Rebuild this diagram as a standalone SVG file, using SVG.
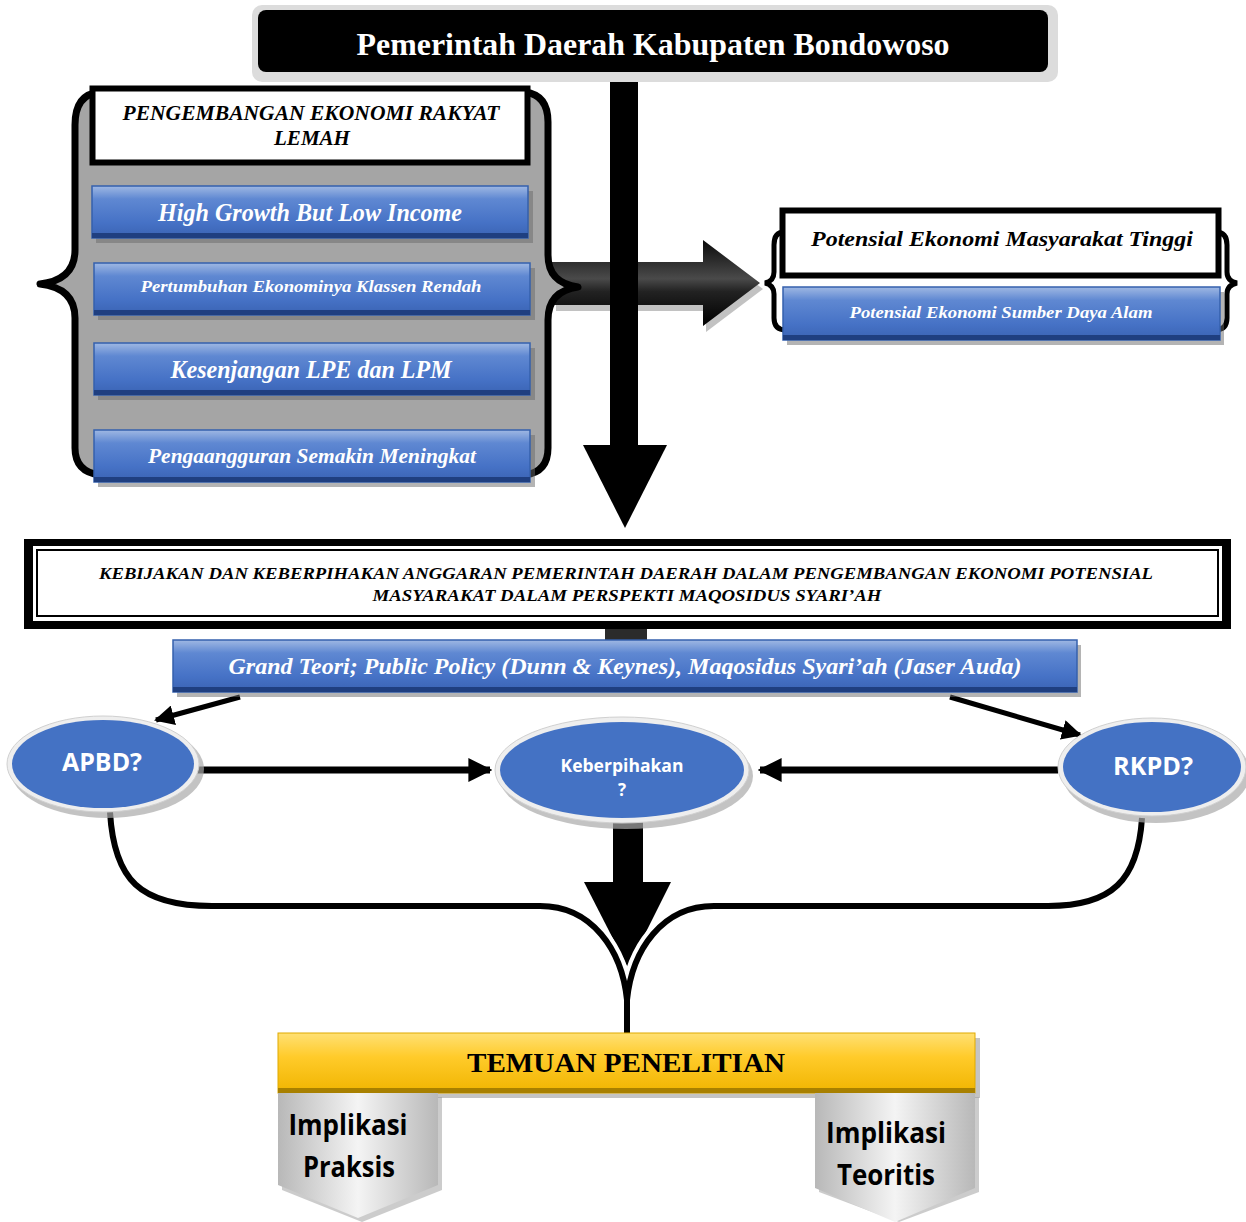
<svg xmlns="http://www.w3.org/2000/svg" width="1246" height="1222" viewBox="0 0 1246 1222">
<defs>
<linearGradient id="blueG" x1="0" y1="0" x2="0" y2="1">
<stop offset="0" stop-color="#9fb8e3"/>
<stop offset="0.25" stop-color="#5f88d2"/>
<stop offset="0.7" stop-color="#4672c6"/>
<stop offset="1" stop-color="#3a63b3"/>
</linearGradient>
<linearGradient id="yellowG" x1="0" y1="0" x2="0" y2="1">
<stop offset="0" stop-color="#ffe074"/>
<stop offset="0.4" stop-color="#ffcb2a"/>
<stop offset="1" stop-color="#f0b400"/>
</linearGradient>
<linearGradient id="grayG" x1="0" y1="0" x2="1" y2="0">
<stop offset="0" stop-color="#b8b8b8"/>
<stop offset="0.5" stop-color="#f4f4f4"/>
<stop offset="1" stop-color="#b8b8b8"/>
</linearGradient>
<linearGradient id="darkArrowG" x1="0" y1="0" x2="0" y2="1">
<stop offset="0" stop-color="#0a0a0a"/>
<stop offset="0.45" stop-color="#4a4a4a"/>
<stop offset="0.6" stop-color="#222"/>
<stop offset="1" stop-color="#000"/>
</linearGradient>
<marker id="ah" viewBox="0 0 10 10" refX="9" refY="5" markerWidth="24" markerHeight="26" markerUnits="userSpaceOnUse" orient="auto">
<path d="M0,0 L10,5 L0,10 Z" fill="#000"/>
</marker>
<marker id="ahS" viewBox="0 0 10 10" refX="9" refY="5" markerWidth="20" markerHeight="20" markerUnits="userSpaceOnUse" orient="auto">
<path d="M0,0 L10,5 L0,10 Z" fill="#000"/>
</marker>
</defs>
<style>
.serif{font-family:"Liberation Serif","Times New Roman",serif;}
.bi{font-family:"Liberation Serif","Times New Roman",serif;font-weight:bold;font-style:italic;}
.sans{font-family:"Open Sans","Noto Sans","Liberation Sans",sans-serif;font-weight:bold;}
.wt{fill:#ffffff;}
.bt{fill:#000000;}
.bar{fill:url(#blueG);stroke:#3560ad;stroke-width:1.5;}
.barEdge{fill:#1f3f80;}
.barShadow{fill:#6a6a6a;opacity:0.5;}
.line{stroke:#000;fill:none;}
.halo{stroke:#fff;fill:none;}
.ell{fill:#4472c4;}
.ellRing{fill:#eeeeee;stroke:#d0d0d0;stroke-width:1;}
.ellShadow{fill:#a9a9a9;opacity:0.7;}
</style>

<g id="connectors">
<path d="M706,246 L763,289 L706,332 L706,311 L556,311 L556,268 L706,268 Z" fill="#9a9a9a" opacity="0.6"/>
<path d="M552,262 L703,262 L703,240 L760,283 L703,326 L703,305 L552,305 Z" fill="url(#darkArrowG)"/>
<rect x="610" y="72" width="28" height="374" fill="#000"/>
<path d="M583,445 L667,445 L625,528 Z" fill="#000"/>
<rect x="605" y="627" width="42" height="14" fill="#2b2b2b"/>
<line x1="240" y1="697" x2="156" y2="720" class="line" stroke-width="5" marker-end="url(#ahS)"/>
<line x1="950" y1="697" x2="1080" y2="735" class="line" stroke-width="5" marker-end="url(#ahS)"/>
<line x1="197" y1="770" x2="490" y2="770" class="line" stroke-width="7" marker-end="url(#ah)"/>
<line x1="1058" y1="770" x2="760" y2="770" class="line" stroke-width="7" marker-end="url(#ah)"/>
<rect x="613" y="818" width="30" height="66" fill="#000"/>
<path d="M584,882 L671,882 L628,968 Z" fill="#000"/>
<path d="M540,906 C592,906 622,950 627,1000" class="halo" stroke-width="14"/>
<path d="M714,906 C662,906 632,950 627,1000" class="halo" stroke-width="14"/>
<path d="M110,812 C114,880 140,906 212,906 L540,906 C592,906 622,950 627,1000 L627,1034" class="line" stroke-width="6"/>
<path d="M1142,818 C1138,880 1112,906 1048,906 L714,906 C662,906 632,950 627,1000 L627,1034" class="line" stroke-width="6"/>
</g>

<g id="title">
<rect x="252" y="5" width="806" height="77" rx="10" fill="#dcdcdc"/>
<rect x="258" y="10" width="790" height="62" rx="8" fill="#000"/>
<text x="653" y="55" text-anchor="middle" class="serif wt" font-weight="bold" font-size="32" textLength="593" lengthAdjust="spacingAndGlyphs">Pemerintah Daerah Kabupaten Bondowoso</text>
</g>

<g id="left-panel">
<path d="M100,92 Q75,94 75,125 L75,250 Q75,280 40,284 Q75,288 75,318 L75,448 Q75,472 100,475 L525,475 Q548,472 548,448 L548,320 Q548,291 578,287 Q548,283 548,255 L548,122 Q548,95 525,92 Z" fill="#a5a5a5" stroke="#000" stroke-width="7" stroke-linejoin="round"/>
</g>

<g id="box-pengembangan">
<rect x="92.5" y="88.5" width="435" height="74" fill="#fff" stroke="#000" stroke-width="6"/>
<text x="311" y="120" text-anchor="middle" class="bi bt" font-size="20" textLength="377" lengthAdjust="spacingAndGlyphs">PENGEMBANGAN EKONOMI RAKYAT</text>
<text x="312" y="145" text-anchor="middle" class="bi bt" font-size="20" textLength="76" lengthAdjust="spacingAndGlyphs">LEMAH</text>
</g>

<g id="bar-high-growth">
<rect x="96" y="191" width="437" height="52" class="barShadow"/>
<rect x="92" y="186" width="436" height="52" class="bar"/>
<rect x="92" y="233" width="436" height="5" class="barEdge"/>
<text x="310" y="221" text-anchor="middle" class="bi wt" font-size="26" textLength="304" lengthAdjust="spacingAndGlyphs">High Growth But Low Income</text>
</g>

<g id="bar-pertumbuhan">
<rect x="98" y="268" width="437" height="52" class="barShadow"/>
<rect x="94" y="263" width="436" height="52" class="bar"/>
<rect x="94" y="310" width="436" height="5" class="barEdge"/>
<text x="311" y="292" text-anchor="middle" class="bi wt" font-size="17" textLength="341" lengthAdjust="spacingAndGlyphs">Pertumbuhan Ekonominya Klassen Rendah</text>
</g>

<g id="bar-kesenjangan">
<rect x="98" y="348" width="437" height="52" class="barShadow"/>
<rect x="94" y="343" width="436" height="52" class="bar"/>
<rect x="94" y="390" width="436" height="5" class="barEdge"/>
<text x="311" y="378" text-anchor="middle" class="bi wt" font-size="26" textLength="281" lengthAdjust="spacingAndGlyphs">Kesenjangan LPE dan LPM</text>
</g>

<g id="bar-pengangguran">
<rect x="98" y="435" width="437" height="52" class="barShadow"/>
<rect x="94" y="430" width="436" height="52" class="bar"/>
<rect x="94" y="477" width="436" height="5" class="barEdge"/>
<text x="312" y="463" text-anchor="middle" class="bi wt" font-size="20" textLength="328" lengthAdjust="spacingAndGlyphs">Pengaangguran Semakin Meningkat</text>
</g>

<g id="right-group">
<path d="M784,232 Q774,232 774,245 L774,272 Q774,281 765,283 Q774,285 774,294 L774,318 Q774,330 786,330" class="line" stroke-width="5"/>
<path d="M1216,232 Q1227,232 1227,245 L1227,272 Q1227,281 1237,283 Q1227,285 1227,294 L1227,318 Q1227,330 1215,330" class="line" stroke-width="5"/>
<rect x="782.5" y="210.5" width="436" height="65" fill="#fff" stroke="#000" stroke-width="6"/>
<text x="1002" y="246" text-anchor="middle" class="bi bt" font-size="22" textLength="382" lengthAdjust="spacingAndGlyphs">Potensial Ekonomi Masyarakat Tinggi</text>
<rect x="787" y="292" width="437" height="53" class="barShadow"/>
<rect x="783" y="287" width="437" height="53" class="bar"/>
<rect x="783" y="335" width="437" height="5" class="barEdge"/>
<text x="1001" y="318" text-anchor="middle" class="bi wt" font-size="17" textLength="303" lengthAdjust="spacingAndGlyphs">Potensial Ekonomi Sumber Daya Alam</text>
</g>

<g id="box-kebijakan">
<rect x="24" y="539" width="1207" height="90" fill="#000"/>
<rect x="33" y="546" width="1189" height="75" fill="#fff"/>
<rect x="37" y="550" width="1181" height="66" fill="#fff" stroke="#000" stroke-width="2"/>
<text x="626" y="579" text-anchor="middle" class="bi bt" font-size="16" textLength="1054" lengthAdjust="spacingAndGlyphs">KEBIJAKAN DAN KEBERPIHAKAN ANGGARAN PEMERINTAH DAERAH DALAM PENGEMBANGAN EKONOMI POTENSIAL</text>
<text x="627" y="601" text-anchor="middle" class="bi bt" font-size="16" textLength="509" lengthAdjust="spacingAndGlyphs">MASYARAKAT DALAM PERSPEKTI MAQOSIDUS SYARI’AH</text>
</g>

<g id="bar-grand-teori">
<rect x="177" y="645" width="904" height="52" class="barShadow"/>
<rect x="173" y="640" width="904" height="52" class="bar"/>
<rect x="173" y="687" width="904" height="5" class="barEdge"/>
<text x="625" y="674" text-anchor="middle" class="bi wt" font-size="24" textLength="793" lengthAdjust="spacingAndGlyphs">Grand Teori; Public Policy (Dunn &amp; Keynes), Maqosidus Syari’ah (Jaser Auda)</text>
</g>

<g id="ellipse-apbd">
<ellipse cx="107" cy="769" rx="97" ry="49" class="ellShadow"/>
<ellipse cx="103" cy="764" rx="96" ry="48" class="ellRing"/>
<ellipse cx="103" cy="764" rx="91" ry="44" class="ell"/>
<text x="102" y="771" text-anchor="middle" class="sans wt" font-size="25" textLength="80" lengthAdjust="spacingAndGlyphs">APBD?</text>
</g>

<g id="ellipse-keberpihakan">
<ellipse cx="626" cy="776" rx="127" ry="53" class="ellShadow"/>
<ellipse cx="622" cy="770" rx="127" ry="53" class="ellRing"/>
<ellipse cx="622" cy="770" rx="122" ry="48" class="ell"/>
<text x="622" y="772" text-anchor="middle" class="sans wt" font-size="17" textLength="123" lengthAdjust="spacingAndGlyphs">Keberpihakan</text>
<text x="622" y="796" text-anchor="middle" class="sans wt" font-size="17">?</text>
</g>

<g id="ellipse-rkpd">
<ellipse cx="1156" cy="773" rx="94" ry="50" class="ellShadow"/>
<ellipse cx="1152" cy="767" rx="94" ry="49" class="ellRing"/>
<ellipse cx="1152" cy="767" rx="89" ry="45" class="ell"/>
<text x="1153" y="775" text-anchor="middle" class="sans wt" font-size="25" textLength="80" lengthAdjust="spacingAndGlyphs">RKPD?</text>
</g>

<g id="temuan">
<rect x="282" y="1038" width="698" height="60" fill="#8a8a8a" opacity="0.5"/>
<rect x="278" y="1033" width="697" height="60" fill="url(#yellowG)" stroke="#e0aa00" stroke-width="1"/>
<rect x="278" y="1088" width="697" height="5" fill="#a88000"/>
<text x="626" y="1072" text-anchor="middle" class="serif bt" font-weight="bold" font-size="28" textLength="318" lengthAdjust="spacingAndGlyphs">TEMUAN PENELITIAN</text>
</g>

<g id="implikasi-praksis">
<path d="M282,1097 L442,1097 L442,1190 L362,1222 L282,1190 Z" fill="#9a9a9a" opacity="0.5"/>
<path d="M278,1093 L438,1093 L438,1185 L358,1218 L278,1185 Z" fill="url(#grayG)"/>
<text x="348" y="1135" text-anchor="middle" class="sans bt" font-size="28" textLength="119" lengthAdjust="spacingAndGlyphs">Implikasi</text>
<text x="349" y="1177" text-anchor="middle" class="sans bt" font-size="28" textLength="92" lengthAdjust="spacingAndGlyphs">Praksis</text>
</g>

<g id="implikasi-teoritis">
<path d="M819,1097 L979,1097 L979,1192 L899,1222 L819,1192 Z" fill="#9a9a9a" opacity="0.5"/>
<path d="M815,1093 L975,1093 L975,1188 L895,1222 L815,1188 Z" fill="url(#grayG)"/>
<text x="886" y="1143" text-anchor="middle" class="sans bt" font-size="28" textLength="120" lengthAdjust="spacingAndGlyphs">Implikasi</text>
<text x="886" y="1185" text-anchor="middle" class="sans bt" font-size="28" textLength="98" lengthAdjust="spacingAndGlyphs">Teoritis</text>
</g>
</svg>
